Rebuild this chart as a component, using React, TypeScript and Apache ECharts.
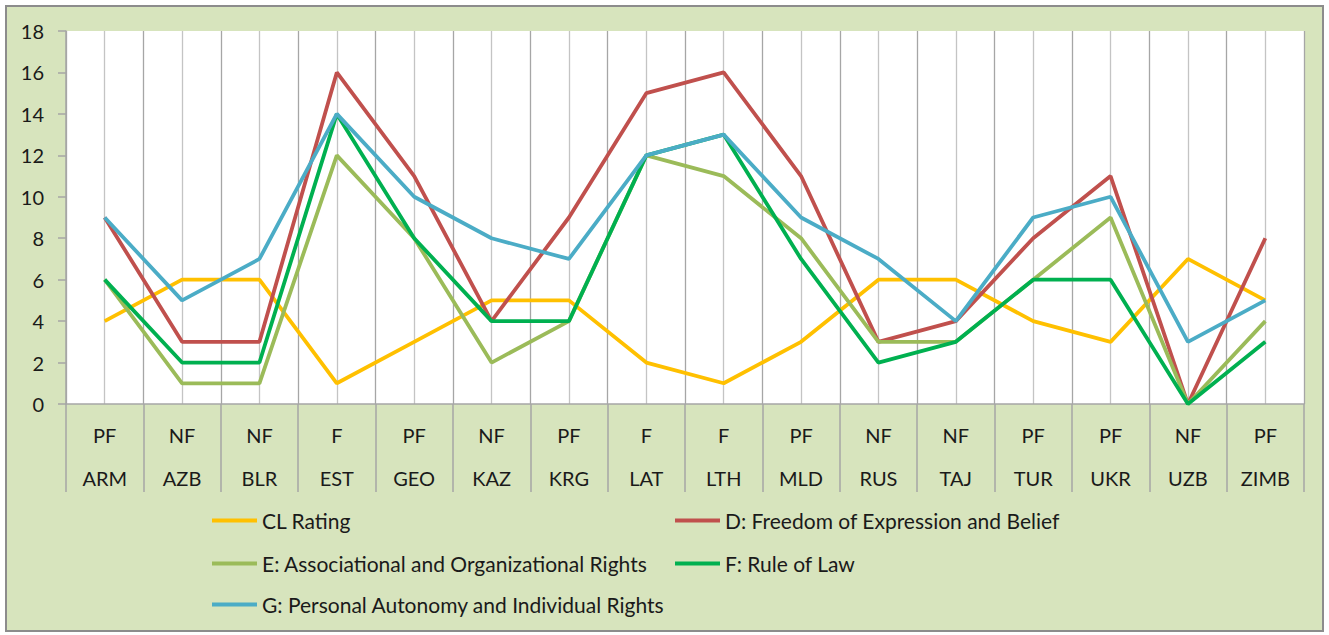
import React, { useEffect, useRef } from "react";
import * as echarts from "echarts";

const countries = ["ARM", "AZB", "BLR", "EST", "GEO", "KAZ", "KRG", "LAT", "LTH", "MLD", "RUS", "TAJ", "TUR", "UKR", "UZB", "ZIMB"];
const statuses = ["PF", "NF", "NF", "F", "PF", "NF", "PF", "F", "F", "PF", "NF", "NF", "PF", "PF", "NF", "PF"];
const clRating = [4, 6, 6, 1, 3, 5, 5, 2, 1, 3, 6, 6, 4, 3, 7, 5];
const dExpression = [9, 3, 3, 16, 11, 4, 9, 15, 16, 11, 3, 4, 8, 11, 0, 8];
const eAssociational = [6, 1, 1, 12, 8, 2, 4, 12, 11, 8, 3, 3, 6, 9, 0, 4];
const fRuleOfLaw = [6, 2, 2, 14, 8, 4, 4, 12, 13, 7, 2, 3, 6, 6, 0, 3];
const gAutonomy = [9, 5, 7, 14, 10, 8, 7, 12, 13, 9, 7, 4, 9, 10, 3, 5];

const seriesNames = [
  "CL Rating",
  "D: Freedom of Expression and Belief",
  "E: Associational and Organizational Rights",
  "F: Rule of Law",
  "G: Personal Autonomy and Individual Rights",
];
const seriesData = [clRating, dExpression, eAssociational, fRuleOfLaw, gAutonomy];
const seriesColors = ["#FFC000", "#C0504D", "#9BBB59", "#00B050", "#4BACC6"];

const FONT = "Lato";
const FS = 20;
const LEGEND_FS = 21;

export default function App() {
  const ref = useRef<HTMLDivElement>(null);
  useEffect(() => {
    if (!ref.current) return;
    const chart = echarts.init(ref.current, null, { renderer: "svg" });
    const legendPos = [
      { left: 212, top: 510 },
      { left: 675, top: 510 },
      { left: 212, top: 553 },
      { left: 675, top: 553 },
      { left: 212, top: 594 },
    ];
    chart.setOption({
      animation: false,
      backgroundColor: "#ffffff",
      textStyle: { fontFamily: FONT },
      graphic: [
        {
          type: "rect",
          z: -100,
          shape: { x: 6, y: 6, width: 1317, height: 625 },
          style: { fill: "#D7E4BD", stroke: "#8C8C8C", lineWidth: 2 },
        },
      ],
      legend: seriesNames.map((n, i) => ({
        show: true,
        data: [n],
        left: legendPos[i].left,
        top: legendPos[i].top,
        icon: "rect",
        itemWidth: 45,
        itemHeight: 4,
        padding: 0,
        textStyle: { fontFamily: FONT, fontSize: LEGEND_FS, color: "#1a1a1a", padding: [0, 0, 0, 0] },
      })),
      grid: {
        left: 66,
        right: 25,
        top: 31,
        bottom: 231,
        show: true,
        backgroundColor: "#ffffff",
        borderWidth: 0,
      },
      xAxis: [
        {
          type: "category",
          data: countries,
          boundaryGap: true,
          axisLine: { show: true, lineStyle: { color: "#A6A6A6", width: 1.5 } },
          axisTick: { show: true, interval: 0, length: 88, lineStyle: { color: "#A6A6A6", width: 1.5 } },
          axisLabel: {
            interval: 0,
            margin: 9,
            lineHeight: 43,
            fontSize: FS,
            fontFamily: FONT,
            color: "#1a1a1a",
            formatter: (v: string, i: number) => statuses[i] + "\n" + v,
          },
          splitLine: { show: false },
        },
        {
          type: "value",
          min: 0,
          max: 32,
          interval: 1,
          show: true,
          axisLine: { show: false },
          axisTick: { show: false },
          axisLabel: { show: false },
          splitLine: { show: true, lineStyle: { color: ["#A6A6A6", "#C4C4C4"], width: 1.3 } },
        },
      ],
      yAxis: {
        type: "value",
        min: 0,
        max: 18,
        interval: 2,
        axisLine: { show: true, lineStyle: { color: "#A6A6A6", width: 1.5 } },
        axisTick: { show: true, length: 8, lineStyle: { color: "#A6A6A6", width: 1.5 } },
        axisLabel: { margin: 22, fontSize: FS, fontFamily: FONT, color: "#1a1a1a" },
        splitLine: { show: false },
      },
      series: seriesNames.map((n, i) => ({
        name: n,
        type: "line",
        xAxisIndex: 0,
        data: seriesData[i],
        symbol: "none",
        color: seriesColors[i],
        lineStyle: { color: seriesColors[i], width: 3.8 },
        z: 3,
      })),
    });
    return () => chart.dispose();
  }, []);
  return (
    <div style={{ position: "fixed", left: 0, top: 0, width: 1329, height: 635, background: "#fff" }}>
      <div ref={ref} style={{ width: 1329, height: 635 }} />
    </div>
  );
}
